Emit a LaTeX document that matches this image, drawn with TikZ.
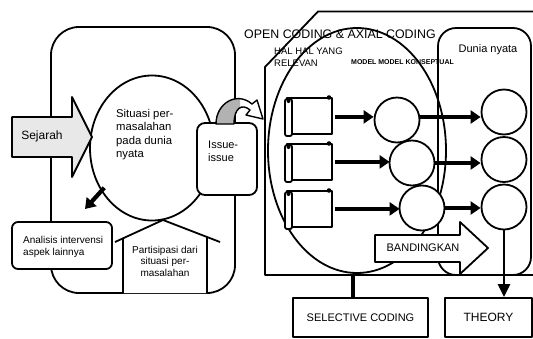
\documentclass[tikz,border=0pt]{standalone}
\usepackage{fontspec}
\setmainfont{Liberation Sans}
\usetikzlibrary{arrows.meta,shapes.geometric,calc}
\begin{document}
\begin{tikzpicture}[x=1pt,y=-1pt,line join=round,
  outl/.style={draw=black,line width=1.8pt},
  boxnode/.style={outl,fill=white,inner sep=0pt},
  circ/.style={circle,outl,fill=white,minimum size=45pt,inner sep=0pt},
  fatarrow/.style={line width=4.2pt,-{Triangle[length=10pt,width=13pt]}},
  lbl/.style={inner sep=0pt,align=left},
  ]
\useasboundingbox (0,0) rectangle (533,338);
% ---------- left part ----------
\draw[outl,rounded corners=28pt] (51,27) rectangle (235,293);
\node[ellipse,outl,fill=white,minimum width=124pt,minimum height=145pt,inner sep=0pt] (situ) at (152,148) {};
\node[lbl,anchor=north west,font=\fontsize{11.3}{13.5}\selectfont] (situtext) at (116,109) {Situasi per-\\masalahan\\pada dunia\\nyata};
% house
\fill[white] (123,238.3) -- (163,220) -- (207,237) -- (207,293) -- (123,293) -- cycle;
\draw[outl] (115,242) -- (163,220) -- (220,242);
\draw[outl] (123,238.3) -- (123,293) (207,237) -- (207,293);
\node[inner sep=0pt,align=center,anchor=north,font=\fontsize{10}{11.3}\selectfont] (partisipasi) at (165,246) {Partisipasi dari\\situasi per-\\masalahan};
% analisis box
\node[boxnode,rounded corners=6pt,minimum width=100pt,minimum height=47pt] (analisis) at (62,245.5) {};
\node[lbl,anchor=north west,font=\fontsize{10}{12}\selectfont] (anatext) at (23,236) {Analisis intervensi\\aspek lainnya};
\coordinate (anatip) at (85,209);
\draw[fatarrow] ($(situ.225)+(0,-8)$) -- (anatip);
% issue box
\node[boxnode,rounded corners=8pt,minimum width=60pt,minimum height=72pt] (issue) at (227,159) {};
\node[lbl,anchor=north west,font=\fontsize{11}{12.5}\selectfont] (issuetext) at (208,141) {Issue-\\issue};
% sejarah arrow
\draw[outl,fill=gray!18] (12,117) -- (72,117) -- (72,97) -- (92,137) -- (72,177) -- (72,157) -- (12,157) -- cycle;
\node[inner sep=0pt,font=\fontsize{12}{14}\selectfont] (sejarah) at (42,136) {Sejarah};
% ribbon arrow
\def\ribbon{(216,124) .. controls (216,103) and (237,91) .. (252,104) -- (257,100) -- (263,119) -- (246,115) -- (250,110) .. controls (242,103) and (234,108) .. (234,124) -- cycle}
\fill[white] \ribbon;
\begin{scope}
\clip (200,80) rectangle (240,124);
\fill[gray!60] \ribbon;
\end{scope}
\draw[line width=1.4pt] \ribbon;
% ---------- right part ----------
\draw[outl] (540,11.5) -- (318,11.5) -- (265,67) -- (265,275) -- (540,275);
\node[ellipse,outl,minimum width=178pt,minimum height=245pt,inner sep=0pt] (openell) at (357,150.5) {};
\draw[outl,rounded corners=18pt] (438,28) rectangle (531,275);
\node[inner sep=0pt,anchor=west,font=\fontsize{12.4}{14}\selectfont] (opentitle) at (244,34) {OPEN CODING \& AXIAL CODING};
\node[lbl,anchor=north west,font=\fontsize{9.5}{12}\selectfont] (hal) at (274,48) {HAL HAL YANG\\RELEVAN};
\node[inner sep=0pt,anchor=west,font=\fontsize{7}{8}\selectfont\bfseries] (model) at (351,62) {MODEL MODEL KONSEPTUAL};
\node[inner sep=0pt,font=\fontsize{11}{13}\selectfont] (dunia) at (488,50) {Dunia nyata};
% documents
\foreach \t/\n in {97/1,143/2,190/3} {
  \node[boxnode,minimum width=45pt,minimum height=36pt,anchor=north west] (d\n) at (286,\t) {};
  \draw[outl,fill=white,rounded corners=2pt] (285,\t+2) rectangle (292,\t+39);
  \fill (288.5,\t+4) circle (2pt);
  \fill (329,\t+0.5) circle (2.3pt);
}
% circles
\node[circ] (c1) at (397,120) {};
\node[circ] (c3) at (422,208) {};
\node[circ] (c2) at (412,163) {};
\node[circ] (r1) at (504,112) {};
\node[circ] (r2) at (504,159.5) {};
\node[circ] (r3) at (504,207) {};
\draw[fatarrow] ($(d1.east)+(2,1)$) -- ($(d1.east -| c1.west)+(0,1)$);
\draw[fatarrow] ($(d2.east)+(2,0)$) -- ($(d2.east -| c2.west)+(1,0)$);
\draw[fatarrow] ($(d3.east)+(2,0)$) -- ($(d3.east -| c3.west)+(1,0)$);
\draw[fatarrow] ($(c1.east)+(0,-3)$) -- ($(c1.east -| r1.west)+(0,-3)$);
\draw[fatarrow] (c2.east) -- (c2.east -| r2.west);
\draw[fatarrow] (c3.east) -- (c3.east -| r3.west);
% bandingkan arrow
\draw[outl,fill=white] (375,235) -- (460,235) -- (460,222) -- (488,248) -- (460,274) -- (460,262) -- (375,262) -- cycle;
\node[inner sep=0pt,font=\fontsize{11}{13}\selectfont] (bandingkan) at (423,248) {BANDINGKAN};
% bottom boxes
\node[boxnode,minimum width=135pt,minimum height=39pt,font=\fontsize{11}{13}\selectfont] (selective) at (360.5,317.5) {SELECTIVE CODING};
\node[boxnode,minimum width=87pt,minimum height=39pt,font=\fontsize{12}{14}\selectfont] (theory) at (488.5,317.5) {THEORY};
\draw[line width=3.2pt] ($(openell.south)+(-4,0)$) -- ($(openell.south |- selective.north)+(-4,0)$);
\draw[line width=2.8pt,-{Triangle[length=13pt,width=12pt]}] (r3.south) -- (r3.south |- theory.north);
\end{tikzpicture}
\end{document}
